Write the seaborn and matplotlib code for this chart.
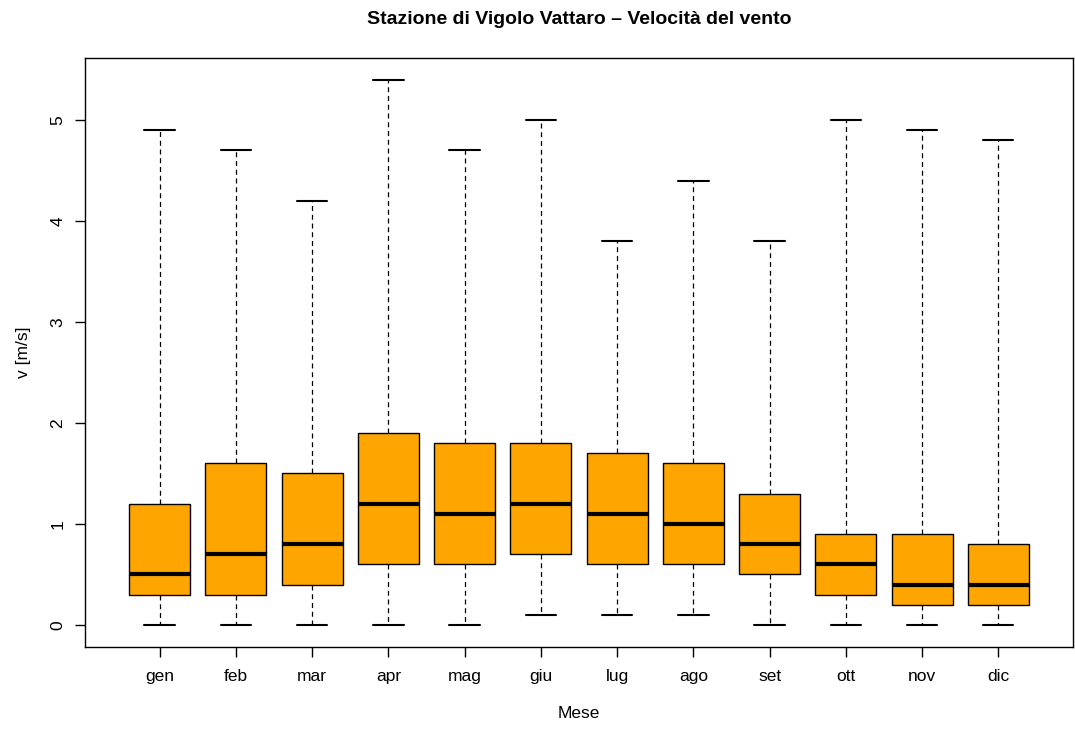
import pandas as pd
import seaborn as sns
import matplotlib.pyplot as plt

# Riassunto a cinque numeri per mese (min, Q1, mediana, Q3, max)
mesi = ['gen', 'feb', 'mar', 'apr', 'mag', 'giu', 'lug', 'ago', 'set', 'ott', 'nov', 'dic']
minimo = [0.0, 0.0, 0.0, 0.0, 0.0, 0.1, 0.1, 0.1, 0.0, 0.0, 0.0, 0.0]
q1 = [0.3, 0.3, 0.4, 0.6, 0.6, 0.7, 0.6, 0.6, 0.5, 0.3, 0.2, 0.2]
mediana = [0.5, 0.7, 0.8, 1.2, 1.1, 1.2, 1.1, 1.0, 0.8, 0.6, 0.4, 0.4]
q3 = [1.2, 1.6, 1.5, 1.9, 1.8, 1.8, 1.7, 1.6, 1.3, 0.9, 0.9, 0.8]
massimo = [4.9, 4.7, 4.2, 5.4, 4.7, 5.0, 3.8, 4.4, 3.8, 5.0, 4.9, 4.8]

# tabella lunga: cinque valori per mese riproducono esattamente i quartili
righe = []
for i, m in enumerate(mesi):
    for v in (minimo[i], q1[i], mediana[i], q3[i], massimo[i]):
        righe.append({'Mese': m, 'v': v})
df = pd.DataFrame(righe)

sns.set_style('ticks')
plt.rcParams['font.family'] = ['Liberation Sans', 'DejaVu Sans']
plt.rcParams['text.color'] = 'black'
plt.rcParams['axes.labelcolor'] = 'black'

fig = plt.figure(figsize=(10.75, 7.31), dpi=100)
ax = fig.add_axes([0.0791, 0.1153, 0.919, 0.8057])

sns.boxplot(data=df, x='Mese', y='v', order=mesi, ax=ax,
            whis=(0, 100), width=0.8, color='#FFA500', saturation=1,
            linecolor='black', linewidth=1,
            medianprops=dict(linewidth=3, color='black'),
            whiskerprops=dict(linestyle=(0, (4, 3)), linewidth=0.9),
            capprops=dict(linewidth=1.5))

ax.set_xlim(-0.98, 11.98)
ax.set_ylim(-0.216, 5.616)
ax.set_yticks([0, 1, 2, 3, 4, 5])
ax.set_yticklabels(['0', '1', '2', '3', '4', '5'], rotation=90, va='center')

for s in ax.spines.values():
    s.set_visible(True)
    s.set_linewidth(1)
    s.set_color('black')

ax.tick_params(axis='both', length=7, width=1, labelsize=12.5, colors='black')
ax.tick_params(axis='x', pad=9)
ax.tick_params(axis='y', pad=7)

ax.set_xlabel('Mese', fontsize=12.5, labelpad=16)
ax.set_ylabel('v [m/s]', fontsize=12.5, labelpad=14)
ax.set_title('Stazione di Vigolo Vattaro – Velocità del vento',
             fontsize=14, fontweight='bold', pad=24)

fig.savefig('out.png', dpi=100)
